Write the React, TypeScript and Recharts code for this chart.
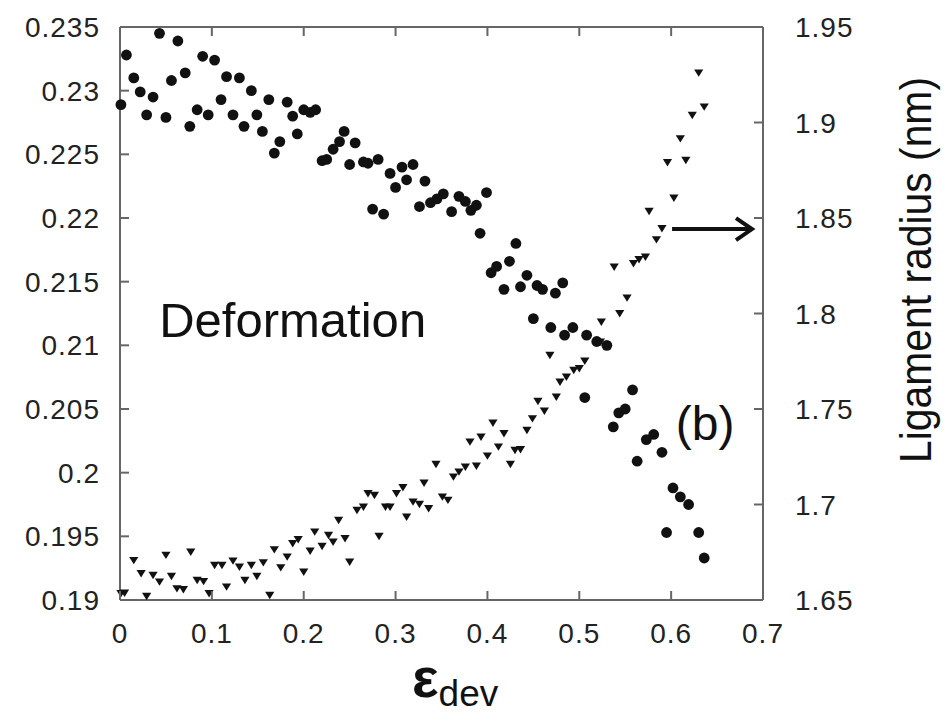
import React from 'react';
import { ScatterChart, Scatter, XAxis, YAxis, ReferenceLine, ReferenceDot, Label } from 'recharts';

const circleX = [0.001, 0.007, 0.015, 0.022, 0.029, 0.036, 0.043, 0.050, 0.056, 0.063, 0.071, 0.076, 0.084, 0.090, 0.096, 0.103, 0.110, 0.116, 0.123, 0.130, 0.135, 0.143, 0.149, 0.155, 0.162, 0.168, 0.174, 0.182, 0.188, 0.193, 0.200, 0.207, 0.213, 0.220, 0.225, 0.232, 0.239, 0.244, 0.250, 0.256, 0.265, 0.270, 0.275, 0.281, 0.287, 0.294, 0.300, 0.307, 0.312, 0.319, 0.326, 0.332, 0.338, 0.345, 0.352, 0.361, 0.369, 0.376, 0.382, 0.388, 0.392, 0.399, 0.404, 0.410, 0.418, 0.424, 0.431, 0.436, 0.443, 0.450, 0.454, 0.460, 0.469, 0.474, 0.482, 0.484, 0.493, 0.506, 0.508, 0.519, 0.530, 0.537, 0.543, 0.550, 0.558, 0.563, 0.573, 0.581, 0.590, 0.595, 0.602, 0.610, 0.619, 0.630, 0.636];
const circleY = [0.2289, 0.2328, 0.2310, 0.2299, 0.2281, 0.2295, 0.2345, 0.2279, 0.2308, 0.2339, 0.2314, 0.2272, 0.2285, 0.2327, 0.2281, 0.2324, 0.2293, 0.2311, 0.2281, 0.2310, 0.2272, 0.2300, 0.2281, 0.2268, 0.2293, 0.2251, 0.2260, 0.2291, 0.2280, 0.2266, 0.2285, 0.2283, 0.2285, 0.2245, 0.2246, 0.2254, 0.2260, 0.2268, 0.2242, 0.2259, 0.2244, 0.2243, 0.2207, 0.2246, 0.2203, 0.2235, 0.2224, 0.2240, 0.2230, 0.2242, 0.2209, 0.2229, 0.2212, 0.2215, 0.2219, 0.2205, 0.2217, 0.2213, 0.2206, 0.2210, 0.2188, 0.2220, 0.2157, 0.2162, 0.2144, 0.2166, 0.2180, 0.2146, 0.2155, 0.2121, 0.2147, 0.2144, 0.2114, 0.2141, 0.2149, 0.2108, 0.2114, 0.2059, 0.2108, 0.2103, 0.2100, 0.2036, 0.2047, 0.2050, 0.2065, 0.2009, 0.2026, 0.2030, 0.2016, 0.1953, 0.1988, 0.1981, 0.1975, 0.1953, 0.1933];

const triX = [0.001, 0.005, 0.015, 0.023, 0.029, 0.036, 0.043, 0.050, 0.056, 0.062, 0.069, 0.077, 0.084, 0.091, 0.097, 0.103, 0.111, 0.116, 0.123, 0.130, 0.136, 0.143, 0.149, 0.156, 0.163, 0.168, 0.175, 0.182, 0.188, 0.194, 0.200, 0.207, 0.212, 0.220, 0.227, 0.232, 0.238, 0.245, 0.250, 0.258, 0.265, 0.270, 0.277, 0.282, 0.289, 0.294, 0.301, 0.308, 0.312, 0.319, 0.326, 0.331, 0.336, 0.344, 0.351, 0.357, 0.363, 0.369, 0.376, 0.381, 0.388, 0.393, 0.400, 0.406, 0.412, 0.418, 0.425, 0.430, 0.436, 0.443, 0.449, 0.455, 0.462, 0.468, 0.475, 0.479, 0.486, 0.494, 0.500, 0.506, 0.523, 0.524, 0.538, 0.544, 0.552, 0.559, 0.565, 0.572, 0.576, 0.584, 0.590, 0.596, 0.603, 0.610, 0.616, 0.623, 0.630, 0.636];
const triY = [1.6535, 1.6538, 1.6709, 1.6640, 1.6521, 1.6631, 1.6596, 1.6736, 1.6626, 1.6561, 1.6556, 1.6753, 1.6605, 1.6599, 1.6535, 1.6683, 1.6683, 1.6570, 1.6706, 1.6674, 1.6605, 1.6683, 1.6626, 1.6697, 1.6526, 1.6765, 1.6671, 1.6727, 1.6797, 1.6818, 1.6648, 1.6758, 1.6858, 1.6783, 1.6840, 1.6805, 1.6919, 1.6823, 1.6700, 1.6971, 1.6988, 1.7059, 1.7050, 1.6835, 1.6988, 1.6988, 1.7059, 1.7090, 1.6936, 1.7015, 1.7003, 1.7114, 1.6980, 1.7212, 1.7041, 1.7024, 1.7146, 1.7172, 1.7198, 1.7329, 1.7203, 1.7355, 1.7256, 1.7428, 1.7303, 1.7373, 1.7212, 1.7285, 1.7289, 1.7390, 1.7451, 1.7542, 1.7491, 1.7783, 1.7564, 1.7643, 1.7669, 1.7704, 1.7713, 1.7753, 1.7852, 1.7957, 1.8245, 1.8001, 1.8083, 1.8263, 1.8284, 1.8297, 1.8537, 1.8388, 1.8446, 1.8792, 1.8606, 1.8917, 1.8804, 1.9039, 1.9261, 1.9083];

const xTicks = [0, 0.1, 0.2, 0.3, 0.4, 0.5, 0.6, 0.7];
const leftTicks = [0.19, 0.195, 0.2, 0.205, 0.21, 0.215, 0.22, 0.225, 0.23, 0.235];
const rightTicks = [1.65, 1.7, 1.75, 1.8, 1.85, 1.9, 1.95];
const xDomain = [0, 0.7];
const leftDomain = [0.19, 0.235];
const rightDomain = [1.65, 1.95];

const xLabelMain = 'ε';
const xLabelSub = 'dev';
const rightLabel = 'Ligament radius (nm)';
const noteLeft = 'Deformation';
const notePanel = '(b)';
const arrowFrom = { x: 0.601, y: 1.8442 };
const arrowTo = { x: 0.688, y: 1.8442 };

const FONT = '"Liberation Sans", Arial, Helvetica, sans-serif';
const FRAME = '#666666';
const TICK_FONT = 28;
const TICK_LEN = 9;
const PLOT_H = 573;
const fmt = (v: number) => String(+Number(v).toFixed(3));

const CircleShape = (p: any) => <circle cx={p.cx} cy={p.cy} r={5.4} fill="#111" />;
const TriShape = (p: any) => (
  <polygon
    points={`${p.cx - 4.6},${p.cy - 3.2} ${p.cx + 4.6},${p.cy - 3.2} ${p.cx},${p.cy + 4.2}`}
    fill="#111"
  />
);

const ArrowShape = (p: any) => {
  const { x1, y1, x2, y2 } = p;
  return (
    <g>
      <line x1={x1} y1={y1} x2={x2 - 3} y2={y2} stroke="#111" strokeWidth={4} />
      <polyline
        points={`${x2 - 16},${y2 - 11} ${x2},${y2} ${x2 - 16},${y2 + 11}`}
        fill="none"
        stroke="#111"
        strokeWidth={4}
      />
    </g>
  );
};

const LEFT_MARGIN = 20;
const RIGHT_MARGIN = 32;
const BOTTOM_MARGIN = 23;

const LeftTick = (p: any) => {
  const ax = Number(p.x) + LEFT_MARGIN;
  const y = Number(p.y);
  const v = p.payload?.value;
  return (
    <g>
      <path d={`M${ax},${y}H${ax + TICK_LEN}`} stroke={FRAME} strokeWidth={2} fill="none" />
      <text x={p.x} y={y} dy="0.36em" textAnchor="end" fontFamily={FONT} fontSize={TICK_FONT} letterSpacing={1} fill="#222">
        {fmt(v)}
      </text>
    </g>
  );
};

const RightTick = (p: any) => {
  const ax = Number(p.x) - RIGHT_MARGIN;
  const y = Number(p.y);
  const v = p.payload?.value;
  return (
    <g>
      <path d={`M${ax},${y}H${ax - TICK_LEN}`} stroke={FRAME} strokeWidth={2} fill="none" />
      <text x={p.x} y={y} dy="0.36em" textAnchor="start" fontFamily={FONT} fontSize={TICK_FONT} letterSpacing={1} fill="#222">
        {fmt(v)}
      </text>
    </g>
  );
};

const BottomTick = (p: any) => {
  const x = Number(p.x);
  const ay = Number(p.y) - BOTTOM_MARGIN;
  const v = p.payload?.value;
  return (
    <g>
      <path d={`M${x},${ay}V${ay - TICK_LEN}`} stroke={FRAME} strokeWidth={2} fill="none" />
      <path d={`M${x},${ay - PLOT_H}V${ay - PLOT_H + TICK_LEN}`} stroke={FRAME} strokeWidth={2} fill="none" />
      <text x={x} y={p.y} dy="0.71em" textAnchor="middle" fontFamily={FONT} fontSize={TICK_FONT} letterSpacing={1} fill="#222">
        {fmt(v)}
      </text>
    </g>
  );
};

const XLabelContent = (p: any) => {
  const vb = p.viewBox || { x: 0, y: 0 };
  return (
    <text x={vb.x + 292} y={vb.y + 97} fontFamily={FONT} fill="#111">
      <tspan fontSize={56} fontWeight={600}>{xLabelMain}</tspan>
      <tspan fontSize={37} dy={9}>{xLabelSub}</tspan>
    </text>
  );
};

const RightLabelContent = (p: any) => {
  const vb = p.viewBox || { x: 0, y: 0 };
  const cx = vb.x + 152;
  const cy = vb.y + 243;
  return (
    <text
      x={cx}
      y={cy}
      transform={`rotate(-90, ${cx}, ${cy})`}
      textAnchor="middle"
      dominantBaseline="central"
      fontFamily={FONT}
      fontSize={44}
      textLength={386}
      lengthAdjust="spacingAndGlyphs"
      fill="#111"
    >
      {rightLabel}
    </text>
  );
};

export default function App() {
  const circles = circleX.map((x, i) => ({ x, y: circleY[i] }));
  const tris = triX.map((x, i) => ({ x, y: triY[i] }));
  return (
    <div style={{ width: 936, height: 709, background: '#fff' }}>
      <ScatterChart width={936} height={709} margin={{ top: 19, right: 0, bottom: 0, left: 0 }}>
        <XAxis
          xAxisId="b"
          type="number"
          dataKey="x"
          domain={xDomain}
          ticks={xTicks}
          interval={0}
          height={117}
          tickSize={0}
          tickMargin={BOTTOM_MARGIN}
          tick={BottomTick}
          tickLine={false}
          axisLine={{ stroke: FRAME, strokeWidth: 2 }}
        >
          <Label content={XLabelContent} />
        </XAxis>
        <YAxis
          yAxisId="l"
          type="number"
          dataKey="y"
          domain={leftDomain}
          ticks={leftTicks}
          interval={0}
          width={112}
          tickSize={0}
          tickMargin={LEFT_MARGIN}
          tick={LeftTick}
          tickLine={false}
          axisLine={{ stroke: FRAME, strokeWidth: 2 }}
        />
        <YAxis
          yAxisId="r"
          orientation="right"
          type="number"
          dataKey="y"
          domain={rightDomain}
          ticks={rightTicks}
          interval={0}
          width={181}
          tickSize={0}
          tickMargin={RIGHT_MARGIN}
          tick={RightTick}
          tickLine={false}
          axisLine={{ stroke: FRAME, strokeWidth: 2 }}
        >
          <Label content={RightLabelContent} />
        </YAxis>
        <ReferenceLine xAxisId="b" yAxisId="l" y={leftDomain[1]} stroke={FRAME} strokeWidth={2} />
        <Scatter xAxisId="b" yAxisId="l" data={circles} shape={CircleShape} isAnimationActive={false} />
        <Scatter xAxisId="b" yAxisId="r" data={tris} shape={TriShape} isAnimationActive={false} />
        <ReferenceLine xAxisId="b" yAxisId="r" segment={[arrowFrom, arrowTo]} shape={ArrowShape} ifOverflow="visible" />
        <ReferenceDot
          xAxisId="b"
          yAxisId="l"
          x={0.188}
          y={0.212}
          r={1}
          fill="none"
          stroke="none"
          label={{ value: noteLeft, position: 'center', fontSize: 49, fill: '#111', fontFamily: FONT }}
        />
        <ReferenceDot
          xAxisId="b"
          yAxisId="l"
          x={0.637}
          y={0.2039}
          r={1}
          fill="none"
          stroke="none"
          label={{ value: notePanel, position: 'center', fontSize: 48, fill: '#111', fontFamily: FONT }}
        />
      </ScatterChart>
    </div>
  );
}
